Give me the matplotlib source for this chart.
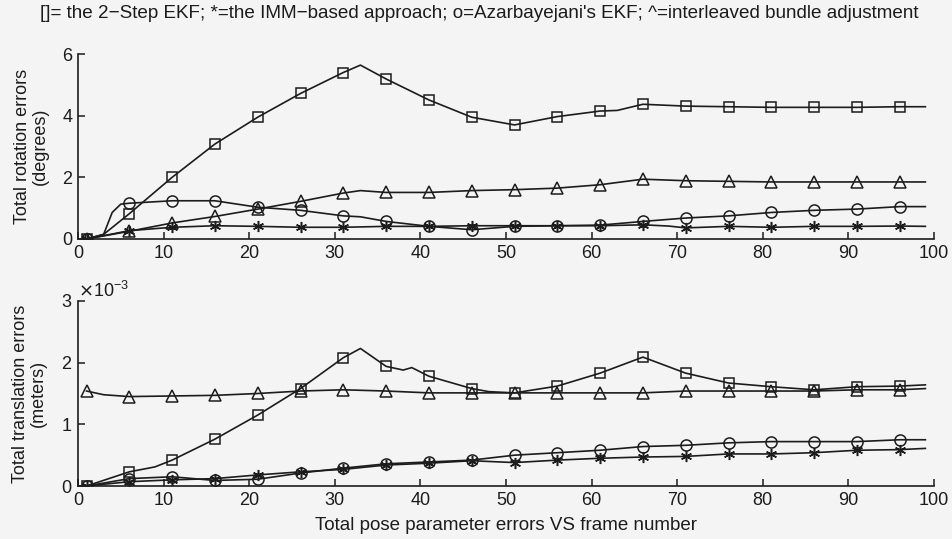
import matplotlib
matplotlib.use("Agg")
import matplotlib.pyplot as plt
from matplotlib.ticker import ScalarFormatter

plt.rcParams['font.family'] = ['Liberation Sans', 'DejaVu Sans']

# frames that carry a marker (every 5th frame)
MARK_FRAMES = list(range(1, 97, 5))

# --- rotation errors (degrees) ---
rot_sq_f = [1, 3, 6, 11, 16, 21, 26, 31, 33, 36, 41, 46, 51, 56, 61, 63, 66, 71, 76, 81, 86, 91, 96, 99]
rot_sq_v = [0, 0.15, 0.82, 2.0, 3.08, 3.95, 4.72, 5.40, 5.64, 5.19, 4.51, 3.95, 3.70, 3.97, 4.15, 4.17,
            4.37, 4.31, 4.29, 4.27, 4.27, 4.27, 4.29, 4.29]
rot_st_f = [1, 6, 11, 16, 21, 26, 31, 36, 41, 46, 51, 56, 61, 66, 69, 71, 76, 81, 86, 91, 96, 99]
rot_st_v = [0, 0.27, 0.38, 0.43, 0.41, 0.38, 0.38, 0.41, 0.41, 0.43, 0.43, 0.43, 0.43, 0.46, 0.42,
            0.36, 0.41, 0.38, 0.41, 0.41, 0.42, 0.41]
rot_ci_f = [1, 3, 4, 5, 6, 11, 16, 21, 26, 31, 33, 36, 41, 46, 51, 56, 61, 66, 71, 76, 81, 86, 91, 96, 99]
rot_ci_v = [0, 0.15, 0.86, 1.13, 1.16, 1.24, 1.24, 1.03, 0.93, 0.75, 0.72, 0.57, 0.41, 0.30, 0.41,
            0.43, 0.45, 0.57, 0.68, 0.75, 0.86, 0.93, 0.97, 1.05, 1.05]
rot_tr_f = [1, 6, 11, 16, 21, 26, 31, 33, 36, 41, 46, 51, 56, 61, 66, 71, 76, 81, 86, 91, 96, 99]
rot_tr_v = [0, 0.25, 0.52, 0.73, 0.97, 1.22, 1.49, 1.57, 1.51, 1.51, 1.57, 1.60, 1.65, 1.76, 1.94,
            1.89, 1.87, 1.85, 1.85, 1.85, 1.85, 1.85]

# --- translation errors (x 1e-3 meters) ---
tra_sq_f = [1, 6, 9, 11, 16, 21, 26, 31, 33, 36, 38, 39, 41, 46, 48, 51, 56, 61, 66, 71, 76, 81, 86, 91, 96, 99]
tra_sq_v = [0, 0.23, 0.31, 0.42, 0.76, 1.15, 1.58, 2.08, 2.23, 1.94, 1.88, 1.92, 1.78, 1.58, 1.53,
            1.51, 1.62, 1.83, 2.09, 1.83, 1.67, 1.61, 1.56, 1.61, 1.62, 1.64]
tra_st_f = [1, 6, 11, 16, 21, 26, 31, 36, 41, 46, 51, 56, 61, 66, 71, 76, 81, 86, 91, 96, 99]
tra_st_v = [0, 0.07, 0.10, 0.12, 0.18, 0.23, 0.27, 0.34, 0.37, 0.41, 0.38, 0.42, 0.45, 0.47, 0.48,
            0.52, 0.52, 0.54, 0.58, 0.59, 0.61]
tra_ci_f = [1, 6, 11, 16, 21, 26, 31, 36, 41, 46, 51, 56, 61, 66, 71, 76, 81, 86, 91, 96, 99]
tra_ci_v = [0, 0.12, 0.15, 0.09, 0.11, 0.21, 0.29, 0.36, 0.39, 0.42, 0.50, 0.54, 0.58, 0.64, 0.66,
            0.70, 0.72, 0.72, 0.72, 0.75, 0.75]
tra_tr_f = [1, 3, 6, 11, 16, 21, 26, 31, 36, 41, 46, 51, 56, 61, 66, 71, 76, 81, 86, 91, 96, 99]
tra_tr_v = [1.54, 1.48, 1.45, 1.46, 1.47, 1.50, 1.54, 1.56, 1.54, 1.51, 1.51, 1.51, 1.51, 1.51, 1.51,
            1.54, 1.54, 1.54, 1.54, 1.56, 1.56, 1.58]

TITLE = ("[]= the 2\u2212Step EKF; *=the IMM\u2212based approach; o=Azarbayejani's EKF; "
         "^=interleaved bundle adjustment")

INK = "#1c1c1c"
BG = "#f4f4f4"
ASTERISK = (6, 2, 0)


def series(ax, frames, vals, marker, ms, scale=1.0):
    idx = [i for i, f in enumerate(frames) if f in MARK_FRAMES]
    ax.plot(frames, [v * scale for v in vals], color=INK, lw=1.2, marker=marker,
            markevery=idx, ms=ms, mfc="none", mec=INK, mew=1.1)


def style(ax):
    ax.set_facecolor(BG)
    for s in ("top", "right"):
        ax.spines[s].set_visible(False)
    for s in ("left", "bottom"):
        ax.spines[s].set_color(INK)
        ax.spines[s].set_linewidth(1.2)
    ax.tick_params(direction="in", length=5, width=1.1, color=INK, labelsize=13,
                   labelcolor=INK, pad=4)
    ax.set_xlim(0, 100)
    ax.set_xticks(range(0, 101, 10))


fig = plt.figure(figsize=(9.53, 5.39), dpi=100, facecolor=BG)
ax1 = fig.add_axes([0.0818, 0.5566, 0.8982, 0.3432])
ax2 = fig.add_axes([0.0818, 0.0983, 0.8982, 0.3433])

for ax in (ax1, ax2):
    style(ax)

series(ax1, rot_sq_f, rot_sq_v, "s", 7.2)
series(ax1, rot_tr_f, rot_tr_v, "^", 8.5)
series(ax1, rot_ci_f, rot_ci_v, "o", 8.0)
series(ax1, rot_st_f, rot_st_v, ASTERISK, 8.0)
ax1.set_ylim(0, 6)
ax1.set_yticks([0, 2, 4, 6])
ax1.set_ylabel("Total rotation errors\n(degrees)", fontsize=13, color=INK,
               linespacing=1.05, labelpad=10)

series(ax2, tra_sq_f, tra_sq_v, "s", 7.2, 1e-3)
series(ax2, tra_tr_f, tra_tr_v, "^", 8.5, 1e-3)
series(ax2, tra_ci_f, tra_ci_v, "o", 8.0, 1e-3)
series(ax2, tra_st_f, tra_st_v, ASTERISK, 8.0, 1e-3)
ax2.set_ylim(0, 3e-3)
ax2.set_yticks([0, 1e-3, 2e-3, 3e-3])
fmt = ScalarFormatter(useMathText=True)
fmt.set_powerlimits((0, 0))
ax2.yaxis.set_major_formatter(fmt)
ax2.yaxis.get_offset_text().set_fontsize(13)
ax2.yaxis.get_offset_text().set_color(INK)
ax2.set_ylabel("Total translation errors\n(meters)", fontsize=13, color=INK,
               linespacing=1.05, labelpad=10)
ax2.set_xlabel("Total pose parameter errors VS frame number", fontsize=13.5, color=INK,
               labelpad=6)

fig.text(0.042, 0.975, TITLE, fontsize=13.6, color=INK, ha="left", va="center")

fig.savefig("out.png", dpi=100, facecolor=BG)
